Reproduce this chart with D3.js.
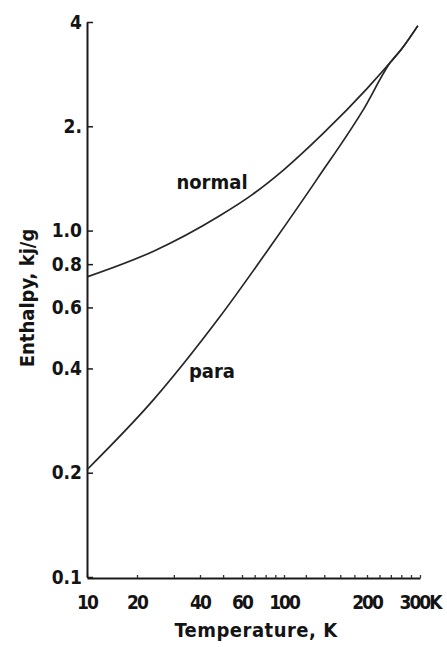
<!DOCTYPE html>
<html>
<head>
<meta charset="utf-8">
<script src="https://cdn.jsdelivr.net/npm/d3@7"></script>
<style>
  body { margin: 0; background: #fff; }
  text { font-family: "DejaVu Sans Condensed", sans-serif; font-weight: bold; fill: #141414; }
</style>
</head>
<body>
<div id="chart"></div>
<script>
var w = 447,
    h = 647;

// normal hydrogen, enthalpy (kJ/g) vs temperature (K)
const tempNormal = [10, 24, 48, 68, 100, 139, 200, 240, 259, 295];
const enthNormal = [0.735, 0.872, 1.10, 1.27, 1.50, 1.91, 2.57, 3.07, 3.32, 3.9];

// para hydrogen (joins the normal curve near 240 K)
const tempPara = [10, 24, 48, 86, 132, 195, 240, 259, 295];
const enthPara = [0.204, 0.325, 0.559, 0.91, 1.41, 2.25, 3.07, 3.32, 3.9];

// ticks
const xTicks = [10, 20, 30, 40, 50, 60, 70, 80, 90, 100, 120, 140, 160, 180, 200, 220, 240, 260, 280, 300];
const xLabelValues = [10, 20, 40, 60, 100, 200, 300];
const xLabels = ["10", "20", "40", "60", "100", "200", "300K"];
const yTicks = [0.1, 0.2, 0.4, 0.6, 0.8, 1.0, 2, 4];
const yLabels = ["0.1", "0.2", "0.4", "0.6", "0.8", "1.0", "2.", "4"];

// the printed temperature axis is not quite a clean log scale,
// so it is pinned at the labelled values
var x = d3.scaleLog()
    .domain([10, 20, 40, 60, 100, 200, 300])
    .range([87, 137, 200, 242, 284, 367, 420]);
var y = d3.scaleLog().domain([0.1, 4]).range([577, 22]);

var svg = d3.select("#chart").append("svg")
    .attr("width", w)
    .attr("height", h);

svg.append("rect").attr("width", w).attr("height", h).attr("fill", "#fff");

// x axis: small inward ticks, labels only at some of them
var xAxis = svg.append("g")
    .attr("transform", "translate(0,578)")
    .call(d3.axisBottom(x).tickValues(xTicks).tickSizeInner(-3).tickSizeOuter(0).tickFormat(""));
xAxis.select(".domain").attr("stroke", "#1a1a1a").attr("stroke-width", 2);
xAxis.selectAll(".tick line").attr("stroke", "#333").attr("stroke-width", 1.3);

svg.append("g").selectAll("text")
    .data(xLabelValues)
  .enter().append("text")
    .attr("x", function(d) { return x(d); })
    .attr("y", 609)
    .attr("text-anchor", "middle")
    .attr("font-size", 19)
    .attr("letter-spacing", -2)
    .text(function(d, i) { return xLabels[i]; });

// y axis: ticks point into the plot
var yAxis = svg.append("g")
    .attr("transform", "translate(87,0)")
    .call(d3.axisLeft(y).tickValues(yTicks).tickSizeInner(-6).tickSizeOuter(0).tickPadding(5)
      .tickFormat(function(d, i) { return yLabels[i]; }));
yAxis.select(".domain").attr("stroke", "#1a1a1a").attr("stroke-width", 2);
yAxis.selectAll(".tick line").attr("stroke", "#1a1a1a").attr("stroke-width", 1.5);
yAxis.attr("font-family", null).attr("font-size", null);
yAxis.selectAll(".tick text")
    .attr("font-size", 19)
    .attr("fill", "#141414");

// axis titles
svg.append("text")
    .attr("x", 256)
    .attr("y", 637)
    .attr("text-anchor", "middle")
    .attr("font-size", 20)
    .attr("letter-spacing", 0.5)
    .text("Temperature, K");

svg.append("text")
    .attr("transform", "translate(34,298) rotate(-90)")
    .attr("text-anchor", "middle")
    .attr("font-size", 20)
    .text("Enthalpy, kj/g");

// curves
var line = d3.line()
    .x(function(d) { return x(d[0]); })
    .y(function(d) { return y(d[1]); })
    .curve(d3.curveMonotoneX);

var series = [
  d3.zip(tempNormal, enthNormal),
  d3.zip(tempPara, enthPara)
];

svg.append("g").selectAll("path")
    .data(series)
  .enter().append("path")
    .attr("d", line)
    .attr("fill", "none")
    .attr("stroke", "#262626")
    .attr("stroke-width", 1.7);

// curve labels
svg.append("text")
    .attr("x", 212)
    .attr("y", 189)
    .attr("text-anchor", "middle")
    .attr("font-size", 20)
    .text("normal");

svg.append("text")
    .attr("x", 212)
    .attr("y", 378)
    .attr("text-anchor", "middle")
    .attr("font-size", 20)
    .text("para");
</script>
</body>
</html>
